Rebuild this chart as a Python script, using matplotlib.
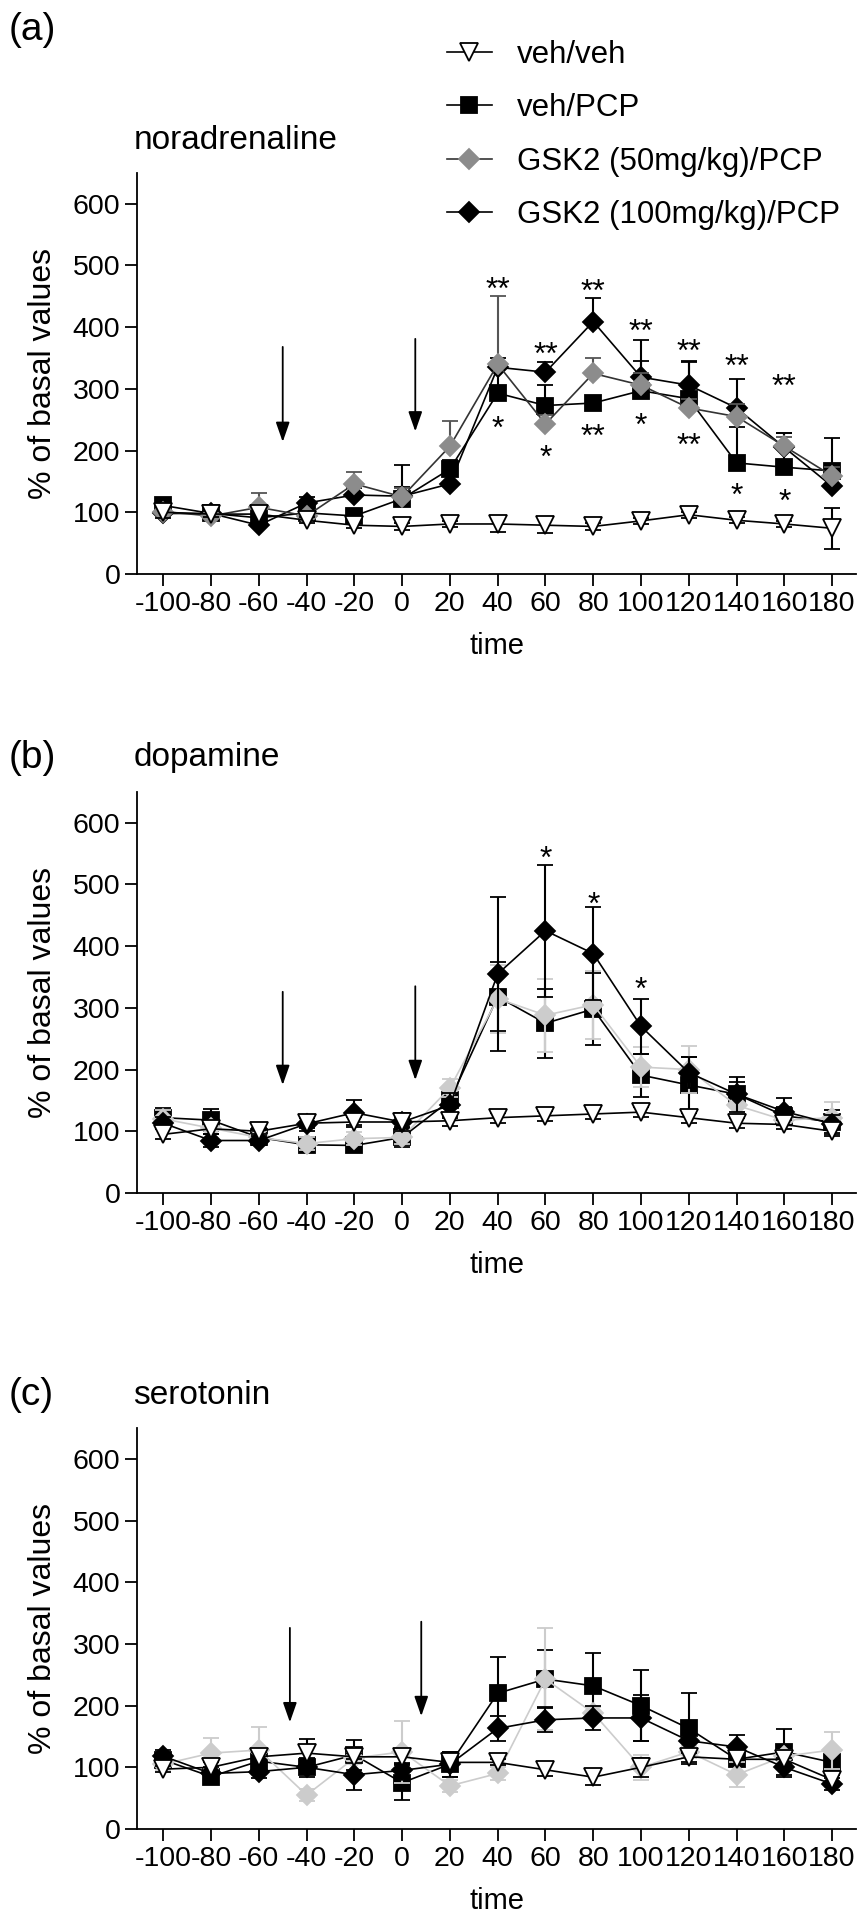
import matplotlib
matplotlib.use("Agg")
import matplotlib.pyplot as plt
import numpy as np

plt.rcParams["font.family"] = ["Liberation Sans", "DejaVu Sans"]

time = [-100, -80, -60, -40, -20, 0, 20, 40, 60, 80, 100, 120, 140, 160, 180]
labels = ["veh/veh", "veh/PCP", "GSK2 (50mg/kg)/PCP", "GSK2 (100mg/kg)/PCP"]

# (a) noradrenaline
na_vv = [100, 97, 97, 87, 79, 77, 81, 81, 79, 77, 86, 96, 87, 81, 74]
na_vp = [111, 98, 91, 99, 94, 122, 170, 293, 273, 277, 297, 284, 180, 173, 167]
na_g50 = [101, 94, 108, 94, 146, 125, 207, 340, 243, 325, 306, 269, 255, 207, 159]
na_g100 = [98, 98, 79, 115, 128, 126, 146, 335, 327, 409, 319, 306, 269, 205, 142]
na_vv_e = [10, 5, 5, 5, 5, 5, 5, 13, 12, 5, 5, 5, 5, 5, 33]
na_vp_e = [12, 8, 10, 8, 8, 54, 15, 45, 33, 10, 48, 60, 58, 55, 54]
na_g50_e = [10, 8, 24, 8, 20, 15, 41, 110, 15, 25, 20, 15, 20, 15, 15]
na_g100_e = [10, 8, 10, 10, 12, 15, 15, 15, 17, 39, 60, 39, 47, 23, 20]

# (b) dopamine
da_vv = [95, 104, 100, 113, 115, 115, 117, 122, 125, 128, 131, 122, 113, 111, 100]
da_vp = [122, 118, 90, 78, 77, 90, 150, 318, 275, 298, 191, 175, 160, 125, 115]
da_g50 = [120, 105, 90, 80, 88, 90, 170, 315, 288, 305, 204, 200, 142, 118, 122]
da_g100 = [113, 85, 85, 112, 130, 115, 142, 355, 425, 388, 270, 195, 160, 132, 112]
da_vv_e = [8, 8, 5, 8, 8, 8, 8, 8, 8, 8, 8, 8, 8, 8, 8]
da_vp_e = [15, 18, 10, 12, 10, 15, 20, 56, 56, 58, 35, 45, 20, 15, 20]
da_g50_e = [15, 10, 10, 10, 10, 10, 15, 55, 59, 55, 33, 38, 15, 10, 25]
da_g100_e = [10, 10, 8, 12, 20, 15, 20, 125, 107, 75, 45, 25, 28, 22, 15]

# (c) serotonin
ht_vv = [97, 100, 117, 123, 117, 117, 108, 108, 96, 84, 100, 117, 113, 113, 80]
ht_vp = [112, 85, 110, 100, 120, 75, 105, 220, 243, 232, 200, 163, 113, 125, 108]
ht_g50 = [105, 123, 128, 55, 115, 125, 70, 90, 243, 188, 100, 125, 88, 118, 128]
ht_g100 = [118, 90, 93, 100, 88, 95, 105, 163, 177, 180, 180, 143, 133, 100, 73]
ht_vv_e = [5, 8, 8, 23, 10, 10, 10, 5, 10, 12, 15, 8, 8, 8, 8]
ht_vp_e = [10, 10, 10, 15, 25, 28, 20, 58, 47, 53, 58, 58, 20, 37, 20]
ht_g50_e = [10, 25, 37, 10, 10, 50, 10, 10, 83, 10, 20, 10, 20, 10, 30]
ht_g100_e = [10, 10, 10, 10, 25, 10, 20, 20, 20, 20, 38, 20, 20, 15, 10]

# significance marks: (time, y, text)
na_stars = [(40, 470, "**"), (60, 364, "**"), (80, 467, "**"), (100, 402, "**"),
            (120, 370, "**"), (140, 345, "**"), (160, 313, "**"),
            (40, 245, "*"), (60, 198, "*"), (80, 232, "**"), (100, 250, "*"),
            (120, 217, "**"), (140, 136, "*"), (160, 126, "*")]
da_stars = [(60, 550, "*"), (80, 477, "*"), (100, 338, "*")]
ht_stars = []

# injection arrows: (time, y_start, y_end)
na_arrows = [(-50, 368, 214), (5.5, 381, 231)]
da_arrows = [(-50, 326, 175), (5.5, 335, 183)]
ht_arrows = [(-47, 326, 173), (8, 336, 183)]

panels = [
    ("(a)", "noradrenaline", [na_vv, na_vp, na_g50, na_g100],
     [na_vv_e, na_vp_e, na_g50_e, na_g100_e], na_stars, na_arrows),
    ("(b)", "dopamine", [da_vv, da_vp, da_g50, da_g100],
     [da_vv_e, da_vp_e, da_g50_e, da_g100_e], da_stars, da_arrows),
    ("(c)", "serotonin", [ht_vv, ht_vp, ht_g50, ht_g100],
     [ht_vv_e, ht_vp_e, ht_g50_e, ht_g100_e], ht_stars, ht_arrows),
]

fig = plt.figure(figsize=(8.59, 19.17), dpi=100)
bottoms = [0.7006, 0.3777, 0.0459]
tag_y = [1.357, 1.085, 1.082]
name_y = [1.08, 1.085, 1.082]

fs = 20.5
for i, (tag, name, ys, es, stars, arrows) in enumerate(panels):
    ax = fig.add_axes([0.1595, bottoms[i], 0.837, 0.2092])
    if i == 0:
        gcol, glcol, gecol = "#8c8c8c", "#333333", "#555555"
    else:
        gcol, glcol, gecol = "#cccccc", "#cccccc", "#cccccc"
    styles = [
        dict(marker="v", ms=12.5, mfc="white", color="black", ecolor="black", z=9),
        dict(marker="s", ms=11.3, mfc="black", color="black", ecolor="black", z=5),
        dict(marker="D", ms=9.7, mfc=gcol, color=glcol, ecolor=gecol, z=7 if i == 0 else 5.5),
        dict(marker="D", ms=9.7, mfc="black", color="black", ecolor="black", z=6),
    ]
    handles = {}
    for k in range(4):
        st = styles[k]
        mec = "black" if k != 2 else gcol
        e = np.array(es[k])
        # in panel (a) only the veh/veh group has error bars on both sides
        if i == 0 and k > 0:
            yerr = [np.zeros_like(e), e]
        else:
            yerr = e
        h = ax.errorbar(time, ys[k], yerr=yerr, marker=st["marker"], ms=st["ms"],
                        mfc=st["mfc"], mec=mec, mew=1.3, color=st["color"],
                        ecolor=st["ecolor"], elinewidth=1.5, capsize=5.5, capthick=1.5,
                        lw=1.2, zorder=st["z"], label=labels[k])
        handles[k] = h[0]
    for (t, y, s) in stars:
        ax.text(t, y - 11, s, ha="center", va="center", fontsize=23, zorder=12)
    for (t, y0, y1) in arrows:
        ax.annotate("", xy=(t, y1), xytext=(t, y0),
                    arrowprops=dict(arrowstyle="-|>,head_length=1.2,head_width=0.42",
                                    color="black", lw=1.3, shrinkA=0, shrinkB=0))
    ax.set_xlim(-111, 190)
    ax.set_ylim(0, 650)
    ax.set_xticks(time)
    ax.set_xticklabels([str(t) for t in time])
    ax.set_yticks(range(0, 601, 100))
    ax.spines["top"].set_visible(False)
    ax.spines["right"].set_visible(False)
    ax.spines["left"].set_linewidth(1.3)
    ax.spines["bottom"].set_linewidth(1.3)
    ax.tick_params(direction="out", length=8.5, width=1.3, labelsize=fs, pad=3.5)
    ax.set_ylabel("% of basal values", fontsize=23)
    ax.yaxis.set_label_coords(-0.11, 0.5)
    ax.set_xlabel("time", fontsize=21, labelpad=11)
    ax.text(-0.179, tag_y[i], tag, transform=ax.transAxes, fontsize=28,
            ha="left", va="center")
    ax.text(-0.005, name_y[i], name, transform=ax.transAxes, fontsize=24,
            ha="left", va="center")
    if i == 0:
        hl = [handles[k] for k in range(4)]
        fig.legend(hl, labels, loc="upper left", bbox_to_anchor=(0.52, 0.979),
                   frameon=False, fontsize=22.5, handlelength=1.45,
                   labelspacing=0.74, handletextpad=0.8, borderpad=0,
                   borderaxespad=0)

fig.savefig("out.png", dpi=100)
